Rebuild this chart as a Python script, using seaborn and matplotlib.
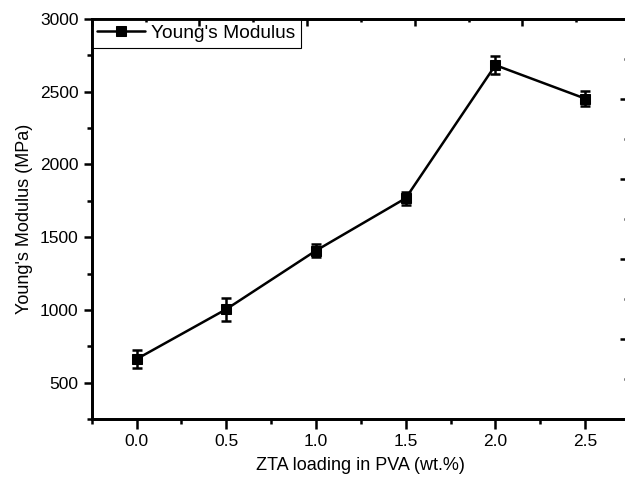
import numpy as np
import pandas as pd
import seaborn as sns
import matplotlib.pyplot as plt
from matplotlib.ticker import MultipleLocator

# Data
zta_loading = [0.0, 0.5, 1.0, 1.5, 2.0, 2.5]
youngs_modulus = [662, 1005, 1408, 1768, 2683, 2453]
modulus_err = [62, 80, 45, 45, 60, 50]

df = pd.DataFrame({"zta": zta_loading, "modulus": youngs_modulus, "err": modulus_err})

sns.set_style("ticks")
plt.rcParams["font.family"] = ["Liberation Sans", "DejaVu Sans"]
plt.rcParams["text.color"] = "black"
plt.rcParams["axes.labelcolor"] = "black"
plt.rcParams["xtick.color"] = "black"
plt.rcParams["ytick.color"] = "black"

fig = plt.figure(figsize=(6.25, 4.78), dpi=100)
ax = fig.add_axes([0.1467, 0.1234, 0.8613, 0.8368])

ax.errorbar(df["zta"], df["modulus"], yerr=df["err"], fmt="none",
            ecolor="black", elinewidth=1.8, capsize=3.5, capthick=1.8, zorder=3)
sns.lineplot(data=df, x="zta", y="modulus", ax=ax, color="black", linewidth=1.8,
             marker="s", markersize=7, markeredgecolor="black",
             label="Young's Modulus", zorder=4)

ax.set_xlim(-0.25, 2.75)
ax.set_ylim(250, 3000)
ax.xaxis.set_major_locator(MultipleLocator(0.5))
ax.xaxis.set_minor_locator(MultipleLocator(0.25))
ax.yaxis.set_minor_locator(MultipleLocator(250))
ax.set_yticks([500, 1000, 1500, 2000, 2500, 3000])
ax.xaxis.set_major_formatter(plt.FuncFormatter(lambda v, p: f"{v:.1f}"))

ax.set_xlabel("ZTA loading in PVA (wt.%)", fontsize=13, labelpad=6)
ax.set_ylabel("Young's Modulus (MPa)", fontsize=13, labelpad=5)
ax.tick_params(which="major", direction="out", length=6, width=1.8, labelsize=12.5)
ax.tick_params(which="minor", direction="out", length=3.5, width=1.8)
ax.tick_params(axis="x", which="major", length=7)
for s in ax.spines.values():
    s.set_linewidth(1.8)
    s.set_color("black")

# extra top / right tick axes like the Origin frame
axr = ax.twinx()
axr.set_ylim(0, 5)
axr.yaxis.set_major_locator(MultipleLocator(1))
axr.yaxis.set_minor_locator(MultipleLocator(0.5))
axr.tick_params(axis="y", which="major", direction="in", length=7, width=1.8, labelright=False)
axr.tick_params(axis="y", which="minor", direction="in", length=4, width=1.8)

axt = ax.twiny()
axt.set_xlim(0, 5)
axt.xaxis.set_major_locator(MultipleLocator(1))
axt.xaxis.set_minor_locator(MultipleLocator(0.5))
axt.tick_params(axis="x", which="major", direction="in", length=5, width=1.8, labeltop=False)
axt.tick_params(axis="x", which="minor", direction="in", length=2.5, width=1.8)
for a in (axr, axt):
    for s in a.spines.values():
        s.set_linewidth(1.8)
        s.set_color("black")

leg = ax.legend(loc="upper left", bbox_to_anchor=(0, 1), borderaxespad=0,
                fontsize=13.8, frameon=True, fancybox=False, framealpha=1,
                edgecolor="black", handlelength=2.5, handletextpad=0.3,
                borderpad=0.3)
leg.get_frame().set_linewidth(0.8)

fig.savefig("out.png", dpi=100)
